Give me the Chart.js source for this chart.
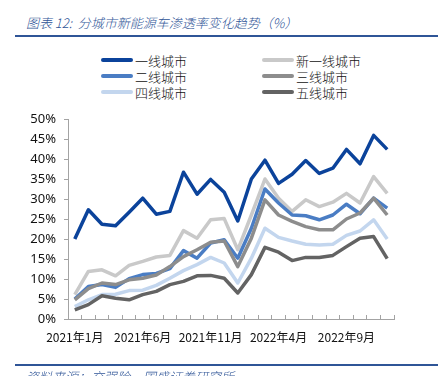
<!DOCTYPE html>
<html>
<head>
<meta charset="utf-8">
<script src="https://cdn.jsdelivr.net/npm/chart.js@4.4.1/dist/chart.umd.min.js"></script>
<style>
  html, body { margin: 0; padding: 0; background: #fff; }
  body { width: 442px; height: 376px; position: relative; overflow: hidden; font-family: "Noto Sans CJK SC", "Noto Sans", sans-serif; }
  #title { position: absolute; left: 26px; top: 13px; font-size: 13px; font-style: italic; font-weight: 300; color: #2f5597; white-space: nowrap; }
  .rule { position: absolute; left: 15px; width: 423px; height: 2px; background: #2f5597; }
  #legend { position: absolute; left: 0; top: 0; }
  .item { position: absolute; display: flex; align-items: center; font-size: 13px; font-weight: 300; color: #111; white-space: nowrap; height: 16px; }
  .sw { width: 32px; height: 4px; border-radius: 2px; margin-right: 2px; }
  #source { position: absolute; left: 26px; top: 367px; font-size: 13px; font-style: italic; font-weight: 300; color: #2f5597; white-space: nowrap; }
  #wrap { position: absolute; left: 0; top: 0; width: 442px; height: 376px; }
</style>
</head>
<body>
<div id="title">图表 12:&nbsp; 分城市新能源车渗透率变化趋势（%）</div>
<div class="rule" style="top:35px"></div>
<div id="legend"></div>
<div id="wrap"><canvas id="lineChart" width="442" height="376"></canvas></div>
<div class="rule" style="top:364px"></div>
<div id="source">资料来源：交强险，国盛证券研究所</div>
<script>
// 月份（2021年1月 - 2022年12月）
const months = [
  "2021年1月", "2021年2月", "2021年3月", "2021年4月", "2021年5月", "2021年6月",
  "2021年7月", "2021年8月", "2021年9月", "2021年10月", "2021年11月", "2021年12月",
  "2022年1月", "2022年2月", "2022年3月", "2022年4月", "2022年5月", "2022年6月",
  "2022年7月", "2022年8月", "2022年9月", "2022年10月", "2022年11月", "2022年12月",
];

// 渗透率（%）
const tier1 = [20.0, 27.3, 23.7, 23.3, 26.7, 30.2, 26.2, 26.9, 36.7, 31.2, 34.9, 31.7, 24.5, 35.0, 39.7, 33.9, 36.2, 39.6, 36.4, 37.7, 42.4, 38.8, 45.9, 42.4];
const newTier1 = [6.1, 11.9, 12.3, 10.8, 13.4, 14.4, 15.5, 15.9, 22.1, 20.2, 24.8, 25.1, 17.3, 26.0, 35.0, 30.2, 26.9, 29.8, 28.1, 29.2, 31.4, 29.0, 35.6, 31.4];
const tier2 = [5.0, 8.1, 8.6, 7.9, 10.1, 11.1, 11.4, 12.6, 17.1, 15.2, 19.0, 19.8, 15.2, 22.7, 32.5, 29.0, 26.0, 25.8, 24.8, 26.0, 28.7, 26.3, 30.2, 27.7];
const tier3 = [4.8, 7.6, 9.0, 8.6, 9.8, 10.2, 11.0, 13.1, 15.6, 17.3, 19.2, 19.5, 13.1, 20.2, 29.8, 26.0, 24.4, 23.1, 22.3, 22.3, 25.0, 26.5, 30.2, 26.0];
const tier4 = [3.1, 4.8, 6.1, 6.2, 7.1, 7.2, 8.4, 10.2, 12.1, 13.6, 15.4, 14.0, 9.0, 15.2, 22.7, 20.4, 19.5, 18.7, 18.5, 18.7, 20.9, 22.0, 24.8, 20.0];
const tier5 = [2.3, 3.6, 5.8, 5.2, 4.8, 6.1, 6.9, 8.6, 9.4, 10.8, 10.9, 10.2, 6.5, 11.1, 17.9, 16.7, 14.6, 15.4, 15.4, 15.9, 18.1, 20.2, 20.6, 15.1];

const seriesNames = ["一线城市", "新一线城市", "二线城市", "三线城市", "四线城市", "五线城市"];
const seriesData = [tier1, newTier1, tier2, tier3, tier4, tier5];
const seriesColors = ["#0b439b", "#c9c9c9", "#4a7dc4", "#8d8d8d", "#c3d6ee", "#636363"];

const datasets = seriesNames.map((name, i) => ({
  label: name,
  data: seriesData[i],
  borderColor: seriesColors[i],
  backgroundColor: seriesColors[i],
  borderWidth: 3.5,
  pointRadius: 0,
  tension: 0,
  fill: false,
  borderJoinStyle: "round",
  order: seriesNames.length - 1 - i, // 后面的系列画在上面
}));

// 图例：两列三行
const legendBox = document.getElementById("legend");
const colX = [101, 262];
const rowY = [52, 68, 84];
datasets.forEach((ds, i) => {
  const el = document.createElement("div");
  el.className = "item";
  el.style.left = colX[i % 2] + "px";
  el.style.top = rowY[Math.floor(i / 2)] + "px";
  el.innerHTML = `<span class="sw" style="background:${ds.borderColor}"></span>${ds.label}`;
  legendBox.appendChild(el);
});

const axisColor = "#a3a3a3";
const ctx = document.getElementById("lineChart").getContext("2d");

new Chart(ctx, {
  type: "line",
  data: { labels: months, datasets: datasets },
  options: {
    responsive: false,
    animation: false,
    devicePixelRatio: 1,
    layout: { padding: { left: 28, right: 48, top: 119, bottom: 27 } },
    plugins: {
      legend: { display: false },
      title: { display: false },
      tooltip: { enabled: false },
    },
    scales: {
      x: {
        offset: true,
        grid: {
          offset: true,
          drawOnChartArea: false,
          drawTicks: true,
          tickLength: -4,
          color: axisColor,
        },
        border: { display: true, color: axisColor, width: 1 },
        ticks: {
          autoSkip: false,
          maxRotation: 0,
          padding: 15,
          color: "#111",
          font: { family: "'Noto Sans CJK SC', 'Noto Sans', sans-serif", size: 12 },
          callback: function (value, index) {
            return index % 5 === 0 ? months[index] : "";
          },
        },
        afterFit: function (scale) { scale.height = 30; },
      },
      y: {
        min: 0,
        max: 50,
        grid: {
          drawOnChartArea: false,
          drawTicks: true,
          tickLength: 4,
          color: axisColor,
        },
        border: { display: true, color: axisColor, width: 1 },
        ticks: {
          stepSize: 5,
          padding: 8,
          color: "#111",
          font: { family: "'Noto Sans', sans-serif", size: 13 },
          callback: (v) => v + "%",
        },
        afterFit: function (scale) { scale.width = 40; },
      },
    },
  },
});
</script>
</body>
</html>
